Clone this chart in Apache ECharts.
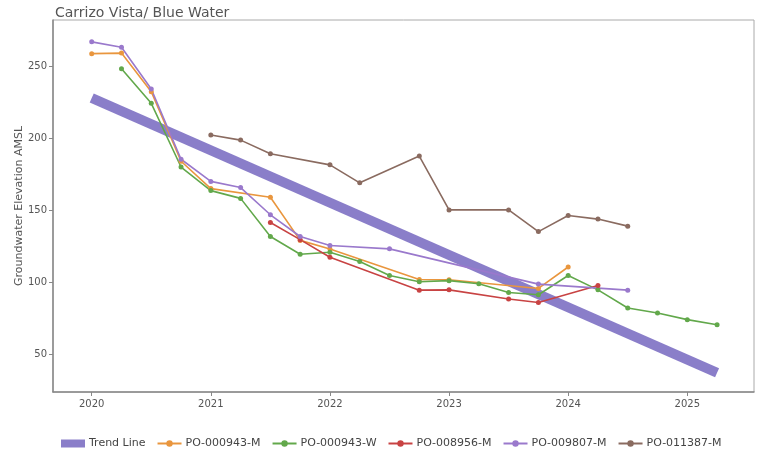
<!DOCTYPE html>
<html>
<head>
<meta charset="utf-8">
<script src="https://cdn.jsdelivr.net/npm/echarts@6/dist/echarts.min.js"></script>
<style>
  html, body { margin: 0; padding: 0; background: #fff; }
  #chart { width: 758px; height: 454px; }
</style>
</head>
<body>
<div id="chart"></div>
<script>
// 刻度
const yearTicks = [2020, 2021, 2022, 2023, 2024, 2025];
const elevTicks = [50, 100, 150, 200, 250];

// 趋势线
const trendX = [2020, 2025.25];
const trendY = [228, 37];

// PO-000943-M
const m943X = [2020, 2020.25, 2020.5, 2020.75, 2021, 2021.5, 2021.75, 2022, 2022.75, 2023, 2023.75, 2024];
const m943Y = [258.8, 259.2, 232.4, 184, 165, 159, 129, 123, 101.8, 101.6, 95.6, 110.5];

// PO-000943-W
const w943X = [2020.25, 2020.5, 2020.75, 2021, 2021.25, 2021.5, 2021.75, 2022, 2022.25, 2022.5, 2022.75,
  2023, 2023.25, 2023.5, 2023.75, 2024, 2024.25, 2024.5, 2024.75, 2025, 2025.25];
const w943Y = [248.3, 224.3, 180, 163.6, 158.2, 131.7, 119.4, 120.8, 114.3, 104.6, 100.2,
  101, 98.8, 92.8, 91.2, 104.6, 94.6, 82, 78.5, 73.9, 70.4];

// PO-008956-M
const m8956X = [2021.5, 2021.75, 2022, 2022.75, 2023, 2023.5, 2023.75, 2024.25];
const m8956Y = [141.4, 129.5, 117.3, 94.4, 94.6, 88.3, 85.8, 97.6];

// PO-009807-M
const m9807X = [2020, 2020.25, 2020.5, 2020.75, 2021, 2021.25, 2021.5, 2021.75, 2022, 2022.5, 2023.75, 2024.5];
const m9807Y = [267, 263.2, 234.2, 185.4, 170, 165.7, 146.8, 131.7, 125.4, 123.1, 98.6, 94.4];

// PO-011387-M
const m11387X = [2021, 2021.25, 2021.5, 2022, 2022.25, 2022.75, 2023, 2023.5, 2023.75, 2024, 2024.25, 2024.5];
const m11387Y = [202.3, 198.7, 189.2, 181.5, 169, 187.6, 150.2, 150.2, 135.1, 146.3, 143.8, 138.9];

function pairs(xs, ys) {
  return xs.map((x, i) => [x, ys[i]]);
}

function wellSeries(name, xs, ys, color) {
  return {
    name: name,
    type: "line",
    data: pairs(xs, ys),
    symbol: "circle",
    symbolSize: 5,
    itemStyle: { color: color },
    lineStyle: { color: color, width: 1.6 },
    emphasis: { disabled: true },
  };
}

const chart = echarts.init(document.getElementById("chart"));
chart.setOption({
  animation: false,
  textStyle: { fontFamily: "DejaVu Sans, Verdana, sans-serif" },
  title: {
    text: "Carrizo Vista/ Blue Water",
    left: 50,
    top: 1,
    textStyle: { fontSize: 14, fontWeight: "normal", color: "#555" },
  },
  grid: {
    left: 53,
    right: 4,
    top: 20,
    bottom: 62,
    show: true,
    borderColor: "#aaa",
    borderWidth: 1,
  },
  legend: {
    top: 433,
    left: 56,
    right: 0,
    itemGap: 11,
    itemWidth: 24,
    itemHeight: 8,
    textStyle: { fontSize: 11, color: "#444", padding: [0, 0, 0, -1] },
    data: [
      { name: "Trend Line", icon: "rect" },
      "PO-000943-M",
      "PO-000943-W",
      "PO-008956-M",
      "PO-009807-M",
      "PO-011387-M",
    ],
  },
  xAxis: {
    type: "value",
    min: 2019.675,
    max: 2025.56,
    axisLine: { show: true, lineStyle: { color: "#888", width: 1.5 } },
    axisTick: { show: true, customValues: yearTicks, length: 4, lineStyle: { color: "#888" } },
    axisLabel: {
      customValues: yearTicks,
      color: "#555",
      fontSize: 10,
      margin: 7,
      formatter: (v) => String(Math.round(v)),
    },
    splitLine: { show: false },
  },
  yAxis: {
    type: "value",
    min: 23.6,
    max: 282.2,
    name: "Groundwater Elevation AMSL",
    nameLocation: "middle",
    nameGap: 28,
    nameMoveOverlap: false,
    nameTextStyle: { fontSize: 11, color: "#555" },
    axisLine: { show: true, lineStyle: { color: "#888", width: 1.5 } },
    axisTick: { show: true, customValues: elevTicks, length: 4, lineStyle: { color: "#888" } },
    axisLabel: { customValues: elevTicks, color: "#555", fontSize: 10, margin: 6 },
    splitLine: { show: false },
  },
  series: [
    {
      name: "Trend Line",
      type: "line",
      data: pairs(trendX, trendY),
      symbol: "none",
      itemStyle: { color: "#8a7ec9" },
      lineStyle: { color: "#8a7ec9", width: 10, cap: "butt" },
      emphasis: { disabled: true },
      z: 1,
    },
    wellSeries("PO-000943-M", m943X, m943Y, "#e9963e"),
    wellSeries("PO-000943-W", w943X, w943Y, "#62a84b"),
    wellSeries("PO-008956-M", m8956X, m8956Y, "#c84343"),
    wellSeries("PO-009807-M", m9807X, m9807Y, "#9a79cc"),
    wellSeries("PO-011387-M", m11387X, m11387Y, "#8a6b60"),
  ],
});
</script>
</body>
</html>
